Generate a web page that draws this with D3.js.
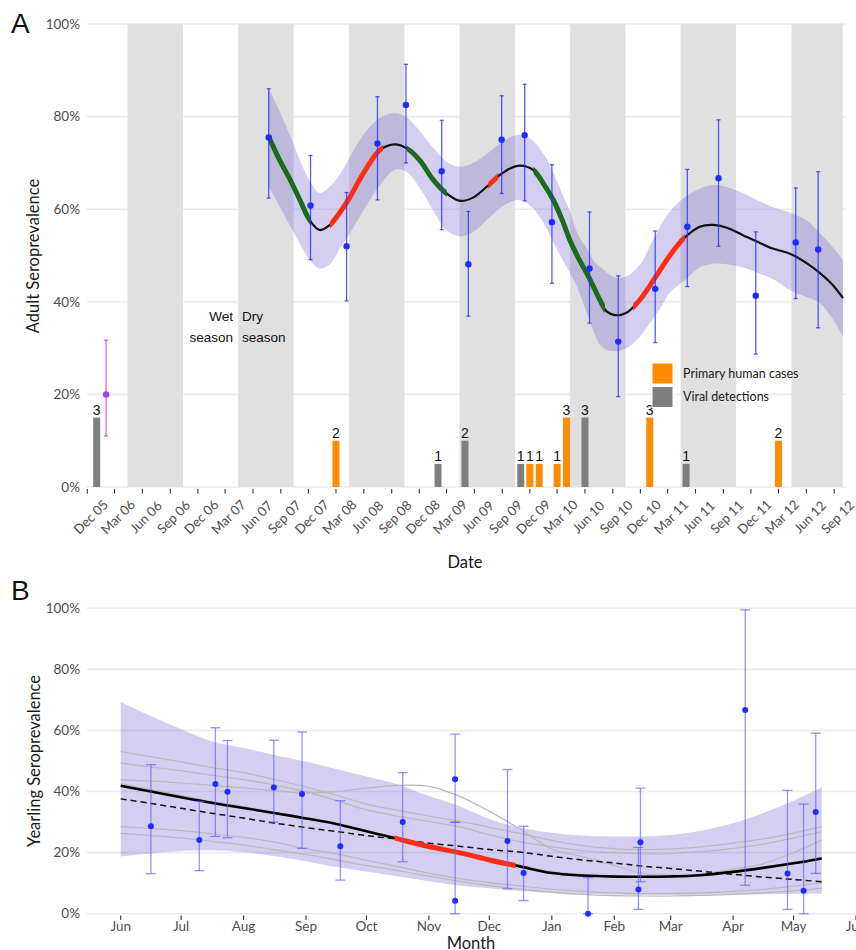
<!DOCTYPE html>
<html><head><meta charset="utf-8">
<script src="https://cdn.jsdelivr.net/npm/d3@7"></script>
<style>
body{margin:0;background:#fff}
svg{display:block}
</style>
</head><body>
<svg id="chart" width="856" height="950"></svg>
<script>
// ---------------- DATA: panel A ----------------
const yTickValues = [0, 20, 40, 60, 80, 100];
const xTickLabelsA = ["Dec 05","Mar 06","Jun 06","Sep 06","Dec 06","Mar 07","Jun 07","Sep 07","Dec 07","Mar 08","Jun 08","Sep 08","Dec 08","Mar 09","Jun 09","Sep 09","Dec 09","Mar 10","Jun 10","Sep 10","Dec 10","Mar 11","Jun 11","Sep 11","Dec 11","Mar 12","Jun 12","Sep 12"];
const dryStart = ["2006-04-13","2007-04-13","2008-04-13","2009-04-13","2010-04-13","2011-04-13","2012-04-13"];
const dryEnd   = ["2006-10-13","2007-10-13","2008-10-13","2009-10-13","2010-10-13","2011-10-13","2012-10-13"];

const barMonths = ["2006-01","2008-03","2009-02","2009-05","2009-11","2009-12","2010-01","2010-03","2010-04","2010-06","2011-01","2011-05","2012-03"];
const barCounts = [3,2,1,2,1,1,1,1,3,3,3,1,2];
const barTypes  = ["Viral detections","Primary human cases","Viral detections","Viral detections","Viral detections","Primary human cases","Primary human cases","Primary human cases","Primary human cases","Viral detections","Primary human cases","Viral detections","Primary human cases"];
const barPctPerCount = 5;

const adultDates = ["2006-02-01","2007-07-23","2007-12-08","2008-04-05","2008-07-16","2008-10-18","2009-02-13","2009-05-12","2009-08-30","2009-11-14","2010-02-12","2010-06-16","2010-09-19","2011-01-19","2011-05-05","2011-08-16","2011-12-17","2012-04-27","2012-07-10"];
const adultValue = [20,75.5,60.8,52,74.2,82.5,68.2,48.1,75,76,57.2,47.2,31.4,42.8,56.2,66.7,41.3,52.8,51.3];
const adultLow   = [11,62.4,49.1,40.2,62,70,55.6,36.9,63.4,61.8,44,35.4,19.5,31.2,43.3,52,28.7,40.7,34.4];
const adultHigh  = [31.7,86,71.6,63.6,84.3,91.3,79.2,59.5,84.5,87,69.6,59.4,45.6,55.3,68.6,79.3,55.1,64.6,68.1];
const adultGroup = ["early","main","main","main","main","main","main","main","main","main","main","main","main","main","main","main","main","main","main"];

const fitAYear = [2007.555,2007.657,2007.747,2007.838,2007.928,2008.018,2008.109,2008.199,2008.290,2008.380,2008.470,2008.561,2008.696,2008.805,2008.922,2009.040,2009.157,2009.284,2009.401,2009.528,2009.645,2009.736,2009.826,2009.944,2010.052,2010.125,2010.206,2010.278,2010.351,2010.432,2010.504,2010.549,2010.613,2010.712,2010.793,2010.848,2010.929,2011.001,2011.092,2011.182,2011.309,2011.453,2011.571,2011.697,2011.842,2011.969,2012.113,2012.267,2012.421,2012.538,2012.647,2012.746];
const fitAValue = [75.7,70.5,66.5,62,57.6,55.5,56.6,59.3,62.6,66.5,70.0,72.8,74.0,73.1,70.5,66.4,63.5,61.8,62.5,64.9,67.4,68.8,69.4,68.5,65.0,62.1,57.8,53.3,49.6,46.1,42.6,40.4,37.9,37.1,37.7,38.8,41.0,43.5,46.8,50.0,53.7,56.2,56.6,56.0,54.4,53.0,51.5,50.4,48.3,46.2,43.8,40.8];
const fitALower = [65,60.5,56.5,52.6,49,47.2,48.1,51.5,54.8,58.5,62,65.2,68.5,68,64.5,59.8,55.5,54.1,55.0,57.7,60.2,61.5,62,60.2,56.5,53,49.3,46.2,42.7,37.5,33,30.7,29.6,29.4,30.0,31,33,35.4,38.5,42.0,44.5,47.4,48.2,48.1,47.4,46.3,44.9,42.5,41,39.7,36.5,32.5];
const fitAUpper = [86.1,81,76,70.6,66,63.5,64.9,67.5,71.3,75,77.8,79.8,80.7,79.8,76.8,73.3,70.3,69.2,70.0,72,74.2,75.5,76,74.8,71.5,68,63.5,59.5,54.5,51.5,48.5,47.6,46.3,45.1,45.5,46.5,48.6,52,56.2,59.5,62.4,64.4,65.2,64.8,63.5,62,60.5,59.3,57.5,54.8,52,49];
const decreasingSegs = [[2007.555,2007.939],[2008.802,2009.164],[2009.947,2010.595]];
const increasingSegs = [[2008.109,2008.590],[2009.540,2009.630],[2010.850,2011.317]];

// ---------------- DATA: panel B ----------------
const monthLabelsB = ["Jun","Jul","Aug","Sep","Oct","Nov","Dec","Jan","Feb","Mar","Apr","May","Jun"];
const yearlingDates = ["2010-06-16","2010-07-10","2010-07-18","2010-07-24","2010-08-16","2010-08-30","2010-09-18","2010-10-19","2010-11-14","2010-11-14","2010-12-10","2010-12-18","2011-01-19","2011-02-14","2011-02-13","2011-04-07","2011-04-28","2011-05-06","2011-05-12"];
const yearlingValue = [28.6,24.1,42.5,39.9,41.3,39.2,22.1,30,44,4.2,23.8,13.3,0,23.4,7.9,66.7,13.2,7.5,33.3];
const yearlingLow   = [13.1,14.1,25.3,24.9,30,21.4,11,17,29.9,0,8.2,4.3,0,10.5,1.4,9.3,1.4,0,13.2];
const yearlingHigh  = [48.8,36.8,60.9,56.7,56.8,59.5,37,46.2,58.8,29.9,47.2,28.6,11.8,41.1,21.7,99.5,40.4,35.9,59.1];

const gridBDates = ["2010-06-01","2010-06-16","2010-07-01","2010-07-16","2010-08-01","2010-08-16","2010-09-01","2010-09-16","2010-10-01","2010-10-16","2010-11-01","2010-11-16","2010-12-01","2010-12-16","2011-01-01","2011-01-16","2011-02-01","2011-02-15","2011-03-01","2011-03-16","2011-04-01","2011-04-16","2011-05-01","2011-05-15"];
const fitBValue  = [41.9,40.0,38.1,36.3,34.6,33.0,31.2,29.4,27.0,24.6,22.0,20.0,17.6,15.5,13.3,12.5,12.15,12.1,12.2,12.6,13.7,15.0,16.5,18.1];
const fitBLower  = [18.7,19.7,20.5,20.8,20.2,18.9,17.2,15.3,13.8,12.3,10.6,9.2,8.3,7.4,6.8,6.5,6.2,6.1,6.1,6.2,6.3,6.4,6.5,6.5];
const fitBUpper  = [69.3,64.7,60.4,56.5,54.3,52.0,49.8,47.4,44.9,42.5,38.5,35.3,31.0,28.2,26.5,25.6,25.3,25.3,25.8,27.2,29.6,33.0,37.0,41.4];
const dashedBValue = [37.6,36.1,34.5,32.9,31.3,29.7,28.2,26.9,25.6,24.4,23.1,22.1,21.0,20.2,18.8,17.6,16.6,15.6,14.8,13.9,12.9,12.0,11.2,10.5];
const grayB1 = [53.1,51.4,49.7,47.9,46.2,44.0,41.5,38.8,35.9,33.9,32.0,30.3,28.3,26.3,24.0,22.3,21.3,21.0,21.2,21.9,23.1,24.5,26.4,28.5];
const grayB2 = [49.3,48.1,46.8,45.4,43.9,42.2,39.9,37.1,34.0,32.0,30.2,28.5,25.8,23.6,21.9,20.7,19.9,19.6,19.7,20.3,21.4,22.8,24.8,26.9];
const grayB3 = [43.8,43.4,42.8,42.0,41.2,40.3,39.5,40.0,41.1,42.0,41.7,38.5,33.5,27.8,21.2,18.7,15.8,13.2,12.6,13.0,14.6,16.4,20.0,24.1];
const grayB4 = [28.5,27.9,27.2,26.2,25.0,23.5,21.2,19.6,17.5,15.5,13.3,11.5,10.2,9.1,8.0,7.3,6.8,6.6,6.6,6.8,7.3,8.0,9.0,10.2];
const grayB5 = [26.3,25.6,24.8,23.7,22.5,21.0,19.4,17.6,15.8,14.2,12.3,10.6,9.2,8.1,7.0,6.3,5.9,5.8,5.8,6.0,6.3,6.8,7.5,8.4];
const grayB6 = [42.5,40.6,38.7,36.8,35.0,33.3,31.4,29.5,27.1,24.9,22.4,20.4,18.1,16.0,13.8,12.8,12.3,12.2,12.4,12.9,14.0,15.3,16.8,18.5];
const increasingSegB = ["2010-10-15","2010-12-14"];

// ---------------- helpers ----------------
const svg = d3.select("#chart");
const parseDay = d3.timeParse("%Y-%m-%d");
const parseMonth = d3.timeParse("%Y-%m");
const parseTickA = d3.timeParse("%b %y");
function decYear(t){ const y=Math.floor(t); const s=new Date(y,0,1), e=new Date(y+1,0,1); return new Date(+s + (t-y)*(e-s)); }
const pct = d => d + "%";
const FONT = "Lato, 'Open Sans', sans-serif";
const SANS = "'Liberation Sans', Arial, sans-serif";

// ================= PANEL A =================
const xA = d3.scaleTime().domain([new Date(2005,10,29), new Date(2012,8,29)]).range([86.7, 842.7]);
const yA = d3.scaleLinear().domain([0,100]).range([487,24]);
const gA = svg.append("g");

gA.selectAll("line.grid").data(yTickValues).join("line")
  .attr("x1",86.7).attr("x2",846).attr("y1",d=>yA(d)).attr("y2",d=>yA(d))
  .attr("stroke","#ebebeb").attr("stroke-width",1.6);

const [xa0, xa1] = xA.range();
gA.selectAll("rect.band").data(dryStart.map((s,i)=>({s:parseDay(s), e:parseDay(dryEnd[i])}))).join("rect")
  .attr("x",d=>Math.max(xa0,xA(d.s))).attr("width",d=>Math.min(xa1,xA(d.e))-Math.max(xa0,xA(d.s)))
  .attr("y",yA(100)).attr("height",yA(0)-yA(100)).attr("fill","#e0e0e0");

gA.selectAll("text.yl").data(yTickValues).join("text")
  .attr("x",80).attr("y",d=>yA(d)).attr("dy","0.35em").attr("text-anchor","end")
  .attr("font-family",FONT).attr("font-size",13.5).attr("fill","#4d4d4d").text(pct);

const tickDatesA = xTickLabelsA.map(parseTickA);
gA.selectAll("line.xt").data(tickDatesA).join("line")
  .attr("x1",d=>xA(d)).attr("x2",d=>xA(d)).attr("y1",489).attr("y2",493.5)
  .attr("stroke","#333").attr("stroke-width",1.1);
gA.selectAll("text.xl").data(xTickLabelsA).join("text")
  .attr("transform",(d,i)=>`translate(${xA(tickDatesA[i])+3.5},${517}) rotate(-45)`)
  .attr("text-anchor","middle").attr("dy","0.35em")
  .attr("font-family",FONT).attr("font-size",13.2).attr("fill","#4d4d4d").text(d=>d);

const fitA = fitAYear.map((t,i)=>({d:decYear(t), v:fitAValue[i], lo:fitALower[i], hi:fitAUpper[i]}));
gA.append("path").datum(fitA)
  .attr("d", d3.area().x(d=>xA(d.d)).y0(d=>yA(d.lo)).y1(d=>yA(d.hi)).curve(d3.curveCatmullRom.alpha(0.5)))
  .attr("fill","#6a5acd").attr("fill-opacity",0.29);

const barColor = {"Primary human cases":"#ff8c00","Viral detections":"#7f7f7f"};
const bars = barMonths.map((m,i)=>({d:parseMonth(m), n:barCounts[i], t:barTypes[i]}));
const halfW = 11.5*864e5;
gA.selectAll("rect.bar").data(bars).join("rect")
  .attr("x",d=>xA(new Date(+d.d-halfW))).attr("width",d=>xA(new Date(+d.d+halfW))-xA(new Date(+d.d-halfW)))
  .attr("y",d=>yA(d.n*barPctPerCount)).attr("height",d=>yA(0)-yA(d.n*barPctPerCount))
  .attr("fill",d=>barColor[d.t]);
gA.selectAll("text.bl").data(bars).join("text")
  .attr("x",d=>xA(d.d)).attr("y",d=>yA(d.n*barPctPerCount)-3).attr("text-anchor","middle")
  .attr("font-family",SANS).attr("font-size",14).attr("fill","#111").text(d=>d.n);

const lineA = d3.line().x(d=>xA(d.d)).y(d=>yA(d.v)).curve(d3.curveCatmullRom.alpha(0.5));
gA.append("path").datum(fitA).attr("d",lineA).attr("fill","none").attr("stroke","#111").attr("stroke-width",2.2);
const defs = svg.append("defs");
function segLayer(g, segs, xs, color, width, data, lineGen, id){
  segs.forEach((s,i)=>{
    const cid = id+i;
    defs.append("clipPath").attr("id",cid).append("rect")
      .attr("x",xs(s[0])).attr("width",xs(s[1])-xs(s[0])).attr("y",0).attr("height",950);
    g.append("path").datum(data).attr("d",lineGen).attr("fill","none")
      .attr("stroke",color).attr("stroke-width",width).attr("clip-path",`url(#${cid})`);
  });
}
segLayer(gA, decreasingSegs, t=>xA(decYear(t)), "#1b6b1b", 5, fitA, lineA, "cg");
segLayer(gA, increasingSegs, t=>xA(decYear(t)), "#ff2d14", 5, fitA, lineA, "cr");

const adult = adultDates.map((s,i)=>({d:parseDay(s), v:adultValue[i], lo:adultLow[i], hi:adultHigh[i], g:adultGroup[i]}));
const colA = d => d.g==="early" ? "#a24dff" : "#2f2fff";
const eb = gA.selectAll("g.eb").data(adult).join("g").attr("stroke",colA).attr("stroke-opacity",0.8).attr("stroke-width",1.3);
eb.append("line").attr("x1",d=>xA(d.d)).attr("x2",d=>xA(d.d)).attr("y1",d=>yA(d.lo)).attr("y2",d=>yA(d.hi));
eb.append("line").attr("x1",d=>xA(d.d)-2).attr("x2",d=>xA(d.d)+2).attr("y1",d=>yA(d.lo)).attr("y2",d=>yA(d.lo));
eb.append("line").attr("x1",d=>xA(d.d)-2).attr("x2",d=>xA(d.d)+2).attr("y1",d=>yA(d.hi)).attr("y2",d=>yA(d.hi));
gA.selectAll("circle.pt").data(adult).join("circle")
  .attr("cx",d=>xA(d.d)).attr("cy",d=>yA(d.v)).attr("r",3.2).attr("fill",d=>d.g==="early"?"#a040ff":"#1f2dff");

const legendItems = ["Primary human cases","Viral detections"];
const lg = gA.append("g");
lg.selectAll("rect").data(legendItems).join("rect")
  .attr("x",652).attr("y",(d,i)=>363+i*23.5).attr("width",21).attr("height",21)
  .attr("fill",d=>barColor[d]).attr("stroke","#fff").attr("stroke-width",1);
lg.selectAll("text").data(legendItems).join("text")
  .attr("x",683).attr("y",(d,i)=>374+i*23).attr("dy","0.35em")
  .attr("font-family",FONT).attr("font-size",12.5).attr("fill","#1a1a1a").text(d=>d);

const seasonTxt = gA.append("g").attr("font-family",SANS).attr("font-size",13.5).attr("fill","#111");
seasonTxt.append("text").attr("x",233).attr("y",321).attr("text-anchor","end").text("Wet");
seasonTxt.append("text").attr("x",233).attr("y",342).attr("text-anchor","end").text("season");
seasonTxt.append("text").attr("x",242).attr("y",321).text("Dry");
seasonTxt.append("text").attr("x",242).attr("y",342).text("season");

svg.append("text").attr("x",11).attr("y",33).attr("font-family",SANS).attr("font-size",28).attr("fill","#111").text("A");
svg.append("text").attr("transform","translate(33,256) rotate(-90)").attr("text-anchor","middle").attr("dy","0.35em")
  .attr("font-family",FONT).attr("font-size",16.5).attr("fill","#1a1a1a").text("Adult Seroprevalence");
svg.append("text").attr("x",465).attr("y",562).attr("text-anchor","middle").attr("dy","0.35em")
  .attr("font-family",FONT).attr("font-size",16.5).attr("fill","#1a1a1a").text("Date");

// ================= PANEL B =================
const xB = d3.scaleTime().domain([new Date(2010,5,1), new Date(2011,5,1)]).range([120.7, 856]);
const yB = d3.scaleLinear().domain([0,100]).range([913.7,608.3]);
const gB = svg.append("g");

gB.selectAll("line.grid").data(yTickValues).join("line")
  .attr("x1",86.7).attr("x2",856).attr("y1",d=>yB(d)).attr("y2",d=>yB(d))
  .attr("stroke","#ebebeb").attr("stroke-width",1.6);
gB.selectAll("text.yl").data(yTickValues).join("text")
  .attr("x",80).attr("y",d=>yB(d)).attr("dy","0.35em").attr("text-anchor","end")
  .attr("font-family",FONT).attr("font-size",13.5).attr("fill","#4d4d4d").text(pct);

const tickDatesB = monthLabelsB.map((m,i)=>new Date(2010,5+i,1));
gB.selectAll("line.xt").data(tickDatesB).join("line")
  .attr("x1",d=>xB(d)).attr("x2",d=>xB(d)).attr("y1",915.5).attr("y2",920)
  .attr("stroke","#333").attr("stroke-width",1.1);
gB.selectAll("text.xl").data(monthLabelsB).join("text")
  .attr("x",(d,i)=>xB(tickDatesB[i])).attr("y",926.5).attr("dy","0.35em").attr("text-anchor","middle")
  .attr("font-family",FONT).attr("font-size",13.5).attr("fill","#4d4d4d").text(d=>d);

const gridB = gridBDates.map(parseDay);
const fitB = gridB.map((d,i)=>({d, v:fitBValue[i], lo:fitBLower[i], hi:fitBUpper[i]}));
const curveB = d3.curveCatmullRom.alpha(0.5);
gB.append("path").datum(fitB)
  .attr("d", d3.area().x(d=>xB(d.d)).y0(d=>yB(d.lo)).y1(d=>yB(d.hi)).curve(curveB))
  .attr("fill","#6a5acd").attr("fill-opacity",0.29);

const lineB = d3.line().x(d=>xB(d.d)).y(d=>yB(d.v)).curve(curveB);
[grayB1,grayB2,grayB3,grayB4,grayB5,grayB6].forEach(arr=>{
  gB.append("path").datum(gridB.map((d,i)=>({d, v:arr[i]}))).attr("d",lineB)
    .attr("fill","none").attr("stroke","#b9b9b9").attr("stroke-width",1.2);
});
gB.append("path").datum(gridB.map((d,i)=>({d, v:dashedBValue[i]}))).attr("d",lineB)
  .attr("fill","none").attr("stroke","#111").attr("stroke-width",1.5).attr("stroke-dasharray","6,4");
gB.append("path").datum(fitB).attr("d",lineB).attr("fill","none").attr("stroke","#000").attr("stroke-width",2.6);
segLayer(gB, [increasingSegB.map(parseDay)], d=>xB(d), "#ff2d14", 5, fitB, lineB, "cb");

const yearling = yearlingDates.map((s,i)=>({d:parseDay(s), v:yearlingValue[i], lo:yearlingLow[i], hi:yearlingHigh[i]}));
const ebB = gB.selectAll("g.eb").data(yearling).join("g").attr("stroke","#5a5aff").attr("stroke-opacity",0.65).attr("stroke-width",1.3);
ebB.append("line").attr("x1",d=>xB(d.d)).attr("x2",d=>xB(d.d)).attr("y1",d=>yB(d.lo)).attr("y2",d=>yB(d.hi));
ebB.append("line").attr("x1",d=>xB(d.d)-5).attr("x2",d=>xB(d.d)+5).attr("y1",d=>yB(d.lo)).attr("y2",d=>yB(d.lo));
ebB.append("line").attr("x1",d=>xB(d.d)-5).attr("x2",d=>xB(d.d)+5).attr("y1",d=>yB(d.hi)).attr("y2",d=>yB(d.hi));
gB.selectAll("circle.pt").data(yearling).join("circle")
  .attr("cx",d=>xB(d.d)).attr("cy",d=>yB(d.v)).attr("r",3).attr("fill","#1f2dff");

svg.append("text").attr("x",11).attr("y",600).attr("font-family",SANS).attr("font-size",28).attr("fill","#111").text("B");
svg.append("text").attr("transform","translate(34,761) rotate(-90)").attr("text-anchor","middle").attr("dy","0.35em")
  .attr("font-family",FONT).attr("font-size",16.5).attr("fill","#1a1a1a").text("Yearling Seroprevalence");
svg.append("text").attr("x",471).attr("y",943.5).attr("text-anchor","middle").attr("dy","0.35em")
  .attr("font-family",FONT).attr("font-size",16.5).attr("fill","#1a1a1a").text("Month");
</script>
</body></html>
